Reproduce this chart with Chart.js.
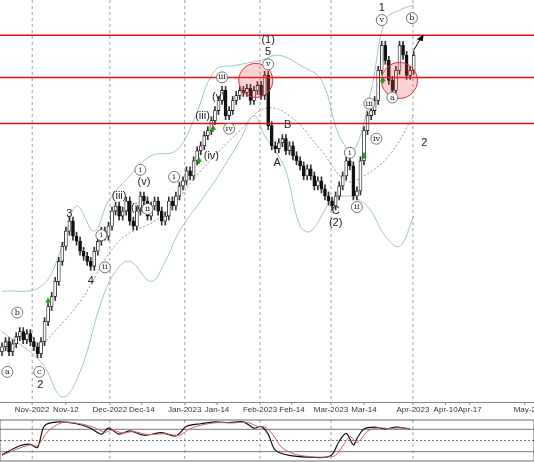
<!DOCTYPE html><html><head><script src="https://cdn.jsdelivr.net/npm/chart.js@4"></script>
<style>body{margin:0;background:#fff}canvas{display:block}</style></head><body>
<div style="width:534px;height:418px"><canvas id="m"></canvas></div>
<div style="width:534px;height:44px"><canvas id="o"></canvas></div>
<script>
const closes=[55,60,50,58,65,70,62,68,60,55,48,60,80,95,105,120,140,155,170,180,165,160,150,145,140,135,150,160,170,165,175,190,195,185,190,200,180,175,190,205,200,185,195,200,190,180,185,200,195,205,215,220,230,225,240,250,255,265,270,280,290,300,310,285,290,300,305,310,308,312,300,310,315,305,325,275,255,252,258,262,250,255,245,240,235,225,232,225,215,220,212,205,200,195,205,215,225,240,235,205,210,240,270,285,290,300,330,355,340,320,310,330,355,345,325,330,345];
const upperBand=[[0,110],[11,115],[17,155],[21,195],[26,170],[30,200],[36,225],[42,245],[49,250],[54,280],[60,330],[66,335],[73,340],[78,345],[84,335],[90,320],[95,265],[99,250],[104,310],[108,380],[112,390],[116,395]];
const lowerBand=[[0,70],[11,40],[17,5],[22,30],[28,100],[32,130],[36,140],[42,120],[46,140],[50,170],[56,200],[60,220],[67,260],[71,285],[74,265],[77,250],[80,230],[84,175],[87,170],[93,200],[98,205],[101,200],[104,190],[108,165],[112,155],[116,185]];
const midBand=[[11,55],[22,100],[33,160],[45,185],[56,230],[67,270],[74,292],[81,285],[90,250],[97,220],[102,225],[109,245],[116,285]];
const levels=[365,323,277];
const tickPos=[8.5,18,30.4,39.4,51.5,60.6,72.7,81.7,92.7,102,115.8,125,131.8,147.3];
const tickLabels=["Nov-2022","Nov-12","Dec-2022","Dec-14","Jan-2023","Jan-14","Feb-2023","Feb-14","Mar-2023","Mar-14","Apr-2023","Apr-10","Apr-17","May-2"];
const majorTicks=[8.5,30.4,51.5,72.7,92.7,115.8];
const oscBlack=[[0,12],[5,36],[8,40],[10,31],[12,90],[16,100],[21,95],[25,83],[28,67],[30,83],[33,67],[36,76],[40,64],[45,71],[49,62],[52,88],[56,95],[60,100],[64,98],[68,100],[71,83],[73,88],[75,67],[77,24],[81,10],[87,5],[91,5],[93,12],[95,48],[97,69],[99,38],[100,55],[102,81],[105,86],[108,81],[111,86],[115,81]];
const oscRed=[[0,10],[5,30],[8,38],[10,36],[13,75],[17,98],[22,95],[26,85],[29,72],[31,78],[34,70],[37,74],[41,66],[46,68],[50,64],[53,82],[57,93],[61,98],[65,97],[69,99],[72,88],[74,86],[76,70],[79,30],[83,12],[88,6],[92,6],[94,10],[96,35],[98,60],[100,45],[101,52],[103,75],[106,84],[109,82],[112,84],[115,82]];
const waveLabels=[["1",107,392,0],["v",107,380,1],["b",115.5,382,1],["(1)",75,360,0],["5",75,348,0],["v",75,336,1],["iii",62,323,1],["(v)",61,304,0],["iv",64,272,1],["(iii)",56.5,285,0],["(iv)",59,245,0],["B",80.5,276,0],["A",77.5,238,0],["i",98,248,1],["iii",103.5,297,1],["iv",105.5,262,1],["a",110,303,1],["ii",100,194,1],["C",94,190,0],["(2)",94,178,0],["2",119,258,0],["i",48.5,224,1],["(v)",40,219,0],["(iii)",33,205,0],["(iv)",38.5,193,0],["ii",41,192,1],["i",39,231,1],["3",19,187,0],["i",28,166,1],["ii",29,134,1],["4",25,120,0],["b",4.3,89,1],["a",1.5,30,1],["c",10.5,30,1],["2",10.8,17,0]];
const greens=[[13,100],[59.5,272],[55.5,240],[107.3,320],[102,245]];
const circles=[[71.5,320,17],[112,320,18]];

const opens=closes.map((c,i)=>i?closes[i-1]:c-5);
const bodies=closes.map((c,i)=>({x:i,y:[opens[i],c]}));
const wicks=closes.map((c,i)=>({x:i,y:[Math.min(opens[i],c)-4,Math.max(opens[i],c)+4]}));
const pts=a=>a.map(p=>({x:p[0],y:p[1]}));
const overlay={id:'ov',afterDatasetsDraw(ch){const {ctx,scales:{x,y},chartArea:ar}=ch;ctx.save();
 levels.forEach(l=>{ctx.strokeStyle='#e01010';ctx.lineWidth=1.5;ctx.beginPath();ctx.moveTo(0,y.getPixelForValue(l));ctx.lineTo(534,y.getPixelForValue(l));ctx.stroke();});
 circles.forEach(c=>{ctx.beginPath();ctx.arc(x.getPixelForValue(c[0]),y.getPixelForValue(c[1]),c[2],0,7);ctx.fillStyle='rgba(240,80,80,0.25)';ctx.fill();ctx.strokeStyle='#e03030';ctx.lineWidth=1;ctx.stroke();});
 greens.forEach(g=>{const px=x.getPixelForValue(g[0]),py=y.getPixelForValue(g[1]);ctx.fillStyle='#2a9a2a';ctx.beginPath();ctx.moveTo(px,py-4);ctx.lineTo(px-3,py+1);ctx.lineTo(px+3,py+1);ctx.fill();ctx.fillRect(px-1,py,2,3);});
 const ax=x.getPixelForValue(116),ay=y.getPixelForValue(350);ctx.strokeStyle='#000';ctx.lineWidth=1;ctx.beginPath();ctx.moveTo(ax,ay);ctx.lineTo(ax+7,ay-12);ctx.stroke();ctx.fillStyle='#000';ctx.beginPath();ctx.moveTo(ax+10,ay-16);ctx.lineTo(ax+3,ay-11);ctx.lineTo(ax+9,ay-9);ctx.fill();
 ctx.textAlign='center';ctx.textBaseline='middle';
 waveLabels.forEach(w=>{const px=x.getPixelForValue(w[1]),py=y.getPixelForValue(w[2]);
  if(w[3]){ctx.beginPath();ctx.arc(px,py,5.5,0,7);ctx.fillStyle='#fff';ctx.fill();ctx.strokeStyle='#555';ctx.lineWidth=0.8;ctx.stroke();ctx.font='8px "DejaVu Serif"';ctx.fillStyle='#222';ctx.fillText(w[0],px,py);}
  else{ctx.font='11px "Liberation Sans"';ctx.fillStyle='#222';ctx.fillText(w[0],px,py);}});
 ctx.strokeStyle='#888';ctx.lineWidth=1;ctx.beginPath();ctx.moveTo(0,ar.bottom+0.5);ctx.lineTo(534,ar.bottom+0.5);ctx.stroke();
 ctx.font='8px "Liberation Sans"';ctx.fillStyle='#333';ctx.textBaseline='top';
 tickPos.forEach((t,i)=>{const px=x.getPixelForValue(t);ctx.beginPath();ctx.moveTo(px,ar.bottom);ctx.lineTo(px,ar.bottom+3);ctx.stroke();ctx.fillText(tickLabels[i],px,ar.bottom+4);});
 ctx.restore();}};
Chart.defaults.animation=false;
new Chart(document.getElementById('m'),{type:'bar',data:{datasets:[
 {type:'line',data:pts(upperBand),borderColor:'#9cc8c4',borderWidth:1,pointRadius:0,tension:0.4,order:5},
 {type:'line',data:pts(lowerBand),borderColor:'#9cc8c4',borderWidth:1,pointRadius:0,tension:0.4,order:5},
 {type:'line',data:pts(midBand),borderColor:'#777',borderWidth:0.8,borderDash:[2,2],pointRadius:0,tension:0.4,order:5},
 {data:wicks,backgroundColor:'#333',barThickness:1,grouped:false,order:3},
 {data:bodies,backgroundColor:closes.map((c,i)=>c>=opens[i]?'#fff':'#111'),borderColor:'#111',borderWidth:0.8,borderSkipped:false,barThickness:3,grouped:false,order:1}
]},options:{responsive:true,maintainAspectRatio:false,layout:{padding:{left:0,right:0,top:0,bottom:16}},plugins:{legend:{display:false},tooltip:{enabled:false}},
 scales:{x:{type:'linear',offset:false,min:-0.56,max:149.9,display:false},y:{min:0,max:400,display:false}}},plugins:[overlay,{id:'gd',beforeDatasetsDraw(ch){const {ctx,chartArea:a}=ch;ctx.save();ctx.setLineDash([3,3]);ctx.strokeStyle='#888';ctx.lineWidth=0.8;majorTicks.forEach(t=>{const px=ch.scales.x.getPixelForValue(t);ctx.beginPath();ctx.moveTo(px,a.top);ctx.lineTo(px,a.bottom);ctx.stroke();});ctx.restore();}}]});
const oscLines={id:'ol',beforeDatasetsDraw(ch){const {ctx,chartArea:a,scales:{x,y}}=ch;ctx.save();ctx.lineWidth=0.8;
 [[80,[]],[50,[2,2]],[20,[]]].forEach(l=>{ctx.setLineDash(l[1]);ctx.strokeStyle='#555';ctx.beginPath();ctx.moveTo(a.left,y.getPixelForValue(l[0]));ctx.lineTo(a.right,y.getPixelForValue(l[0]));ctx.stroke();});
 ctx.setLineDash([3,3]);ctx.strokeStyle='#888';majorTicks.forEach(t=>{const px=x.getPixelForValue(t);ctx.beginPath();ctx.moveTo(px,a.top);ctx.lineTo(px,a.bottom);ctx.stroke();});
 ctx.setLineDash([]);ctx.strokeStyle='#444';ctx.strokeRect(a.left,a.top,a.right-a.left,a.bottom-a.top);ctx.restore();}};
new Chart(document.getElementById('o'),{type:'line',data:{datasets:[
 {data:pts(oscRed),borderColor:'#d06060',borderWidth:1,pointRadius:0,tension:0.3},
 {data:pts(oscBlack),borderColor:'#111',borderWidth:1.2,pointRadius:0,tension:0.3}
]},options:{responsive:true,maintainAspectRatio:false,layout:{padding:{top:2,bottom:1}},plugins:{legend:{display:false},tooltip:{enabled:false}},
 scales:{x:{type:'linear',min:-0.56,max:149.9,display:false},y:{min:-5,max:105,display:false}}},plugins:[oscLines]});
</script></body></html>
